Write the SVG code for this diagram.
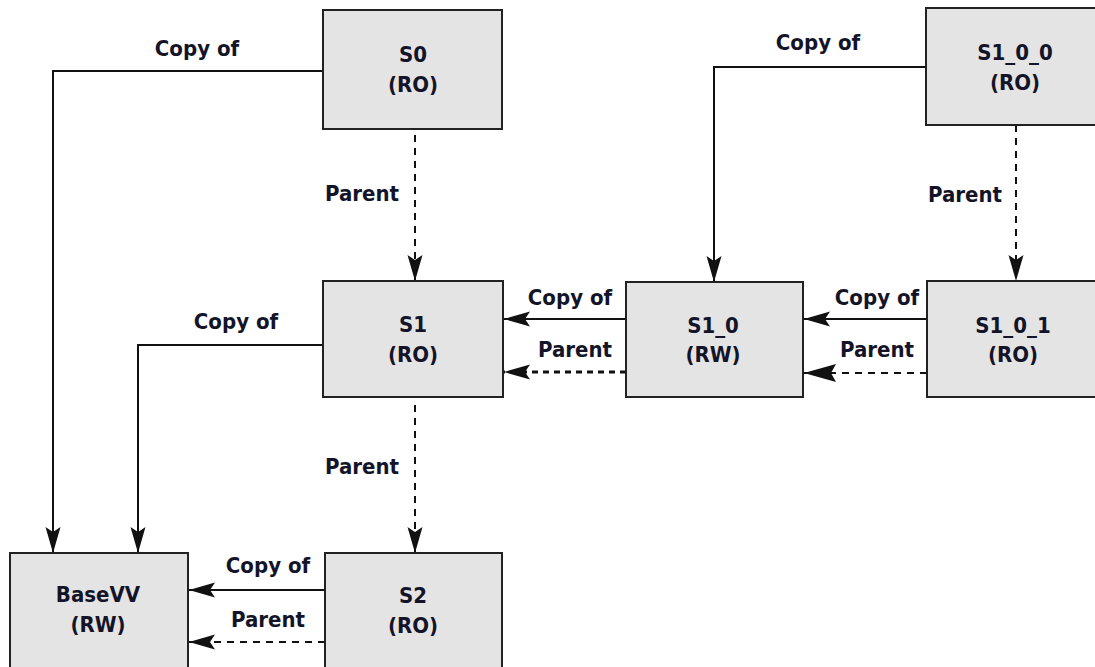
<svg xmlns="http://www.w3.org/2000/svg" width="1095" height="667" viewBox="0 0 1095 667">
  <style>
    .box { fill: #e4e4e4; stroke: #222; stroke-width: 2; }
    .t { font-family: "DejaVu Sans Condensed", "DejaVu Sans", sans-serif; font-stretch: condensed; font-weight: bold; font-size: 22px; fill: #141428; text-anchor: middle; }
    .copy { fill: none; stroke: #111; stroke-width: 2; }
    .par { fill: none; stroke: #111; stroke-width: 2; stroke-dasharray: 7 6; }
    .parthick { fill: none; stroke: #111; stroke-width: 3; stroke-dasharray: 6 5; }
  </style>
  <defs>
    <marker id="ah" viewBox="-28 -10 30 20" refX="0" refY="0" markerWidth="30" markerHeight="20" markerUnits="userSpaceOnUse" orient="auto">
      <path d="M0,0 L-26,-7.5 L-21,0 L-26,7.5 Z" fill="#111"/>
    </marker>
    <marker id="ahbig" viewBox="-34 -11 36 22" refX="0" refY="0" markerWidth="36" markerHeight="22" markerUnits="userSpaceOnUse" orient="auto">
      <path d="M0,0 L-32,-9 L-27,0 L-32,9 Z" fill="#111"/>
    </marker>
  </defs>

  <rect width="1095" height="667" fill="#fff"/>

  <g id="connectors">
    <polyline class="copy" points="323,71 53,71 53,553" marker-end="url(#ah)"/>
    <line class="par" x1="415" y1="135" x2="415" y2="281" marker-end="url(#ah)"/>
    <polyline class="copy" points="323,345 138,345 138,553" marker-end="url(#ah)"/>
    <line class="par" x1="415" y1="405" x2="415" y2="553" marker-end="url(#ah)"/>
    <line class="copy" x1="325" y1="590" x2="189" y2="590" marker-end="url(#ah)"/>
    <line class="par" x1="325" y1="642" x2="189" y2="642" marker-end="url(#ah)"/>
    <line class="copy" x1="626" y1="319" x2="504" y2="319" marker-end="url(#ah)"/>
    <line class="parthick" x1="626" y1="372" x2="504" y2="372" marker-end="url(#ah)"/>
    <line class="copy" x1="927" y1="319" x2="804" y2="319" marker-end="url(#ah)"/>
    <line class="par" x1="927" y1="373" x2="804" y2="373" marker-end="url(#ahbig)"/>
    <polyline class="copy" points="926,67 714,67 714,282" marker-end="url(#ah)"/>
    <line class="par" x1="1016" y1="125" x2="1016" y2="281" marker-end="url(#ah)"/>

    <text class="t" x="197" y="56">Copy of</text>
    <text class="t" x="362" y="201">Parent</text>
    <text class="t" x="236" y="329">Copy of</text>
    <text class="t" x="362" y="474">Parent</text>
    <text class="t" x="268" y="573">Copy of</text>
    <text class="t" x="268" y="627">Parent</text>
    <text class="t" x="570" y="305">Copy of</text>
    <text class="t" x="575" y="357">Parent</text>
    <text class="t" x="877" y="305">Copy of</text>
    <text class="t" x="877" y="357">Parent</text>
    <text class="t" x="818" y="50">Copy of</text>
    <text class="t" x="965" y="202">Parent</text>
  </g>

  <g id="S0">
    <rect class="box" x="323" y="10" width="179" height="119"/>
    <text class="t" x="413" y="62">S0</text>
    <text class="t" x="413" y="92">(RO)</text>
  </g>
  <g id="S1">
    <rect class="box" x="323" y="281" width="180" height="116"/>
    <text class="t" x="413" y="332">S1</text>
    <text class="t" x="413" y="362">(RO)</text>
  </g>
  <g id="S2">
    <rect class="box" x="325" y="553" width="177" height="130"/>
    <text class="t" x="413" y="603">S2</text>
    <text class="t" x="413" y="633">(RO)</text>
  </g>
  <g id="BaseVV">
    <rect class="box" x="10" y="553" width="178" height="130"/>
    <text class="t" x="98" y="602">BaseVV</text>
    <text class="t" x="98" y="632">(RW)</text>
  </g>
  <g id="S1_0">
    <rect class="box" x="626" y="282" width="177" height="115"/>
    <text class="t" x="713" y="333">S1_0</text>
    <text class="t" x="713" y="362">(RW)</text>
  </g>
  <g id="S1_0_1">
    <rect class="box" x="927" y="281" width="190" height="116"/>
    <text class="t" x="1013" y="333">S1_0_1</text>
    <text class="t" x="1013" y="362">(RO)</text>
  </g>
  <g id="S1_0_0">
    <rect class="box" x="926" y="8" width="190" height="117"/>
    <text class="t" x="1015" y="60">S1_0_0</text>
    <text class="t" x="1015" y="90">(RO)</text>
  </g>
</svg>
